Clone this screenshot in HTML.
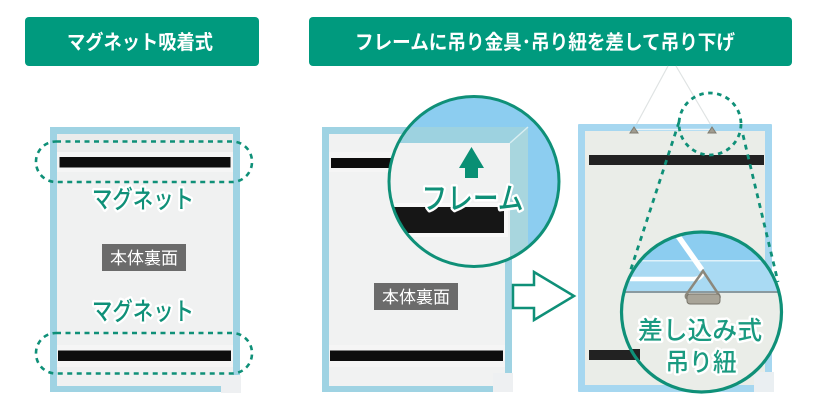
<!DOCTYPE html>
<html lang="ja"><head><meta charset="utf-8"><style>
html,body{margin:0;padding:0;background:#fff;width:814px;height:407px;overflow:hidden}
svg{display:block;filter:blur(0.35px)}
text{font-family:"Liberation Sans","Noto Sans CJK JP",sans-serif}
.lab{font-weight:500;fill:#0f9078;stroke:#fff;stroke-width:5px;paint-order:stroke;stroke-linejoin:round}
.tag{fill:#fff;font-size:17px}
.d{fill:none;stroke:#0f9078;stroke-width:2.6;stroke-dasharray:5 4.5}
</style></head><body>
<svg width="814" height="407" viewBox="0 0 814 407" xmlns="http://www.w3.org/2000/svg">
<defs>
<clipPath id="c1"><circle cx="474" cy="181.5" r="86"/></clipPath>
<clipPath id="c2"><circle cx="701.5" cy="312" r="81"/></clipPath>
</defs>
<!-- headers -->
<rect x="25" y="17" width="234" height="49" rx="4" fill="#009a7e"/>
<rect x="309" y="17" width="483" height="49" rx="4" fill="#009a7e"/>
<text x="140" y="49" text-anchor="middle" fill="#fff" font-size="20" font-weight="700" textLength="146" lengthAdjust="spacingAndGlyphs">マグネット吸着式</text>
<text x="545" y="49" text-anchor="middle" fill="#fff" font-size="20" font-weight="700" textLength="380" lengthAdjust="spacingAndGlyphs">フレームに吊り金具･吊り紐を差して吊り下げ</text>

<!-- left panel -->
<rect x="50" y="127" width="190" height="265" fill="#9fd3e3"/>
<rect x="57" y="134" width="176" height="252" fill="#f0f1f1"/>
<rect x="57" y="134" width="176" height="18" fill="#ebecec"/>
<rect x="57" y="152" width="176" height="20" fill="#f5f5f5"/>
<rect x="57" y="345" width="176" height="22" fill="#f5f5f5"/>
<rect x="221" y="375" width="20" height="18" fill="#eef0f2"/>
<rect x="59.500" y="157" width="171" height="10.500" fill="#0d0d0d"/>
<rect x="58" y="350.500" width="173" height="10.500" fill="#0d0d0d"/>
<rect x="102" y="244" width="84" height="27" fill="#6b6b6b"/>
<text class="tag" x="144" y="264" text-anchor="middle" textLength="68" lengthAdjust="spacingAndGlyphs">本体裏面</text>
<text class="lab" x="143" y="208" text-anchor="middle" font-size="25" textLength="102" lengthAdjust="spacingAndGlyphs">マグネット</text>
<text class="lab" x="143" y="320" text-anchor="middle" font-size="25" textLength="102" lengthAdjust="spacingAndGlyphs">マグネット</text>
<rect class="d" x="36" y="141.500" width="216" height="40.500" rx="20"/>
<rect class="d" x="36" y="333" width="216" height="40.500" rx="20"/>

<!-- middle panel -->
<rect x="322" y="127" width="190" height="265" fill="#9fd3e3"/>
<rect x="329" y="134" width="176" height="252" fill="#f1f2f2"/>
<rect x="329" y="152" width="176" height="20" fill="#f5f5f5"/>
<rect x="329" y="345" width="176" height="22" fill="#f5f5f5"/>
<rect x="493" y="373" width="20" height="19" fill="#eef0f2"/>
<rect x="331" y="158" width="70" height="10" fill="#0d0d0d"/>
<rect x="330" y="350.500" width="173" height="10.500" fill="#0d0d0d"/>
<rect x="374" y="283" width="84" height="27" fill="#6b6b6b"/>
<text class="tag" x="416" y="303" text-anchor="middle" textLength="68" lengthAdjust="spacingAndGlyphs">本体裏面</text>
<circle cx="474" cy="181.500" r="86" fill="#8ccdf0"/>
<g clip-path="url(#c1)">
  <path d="M380 127H528V280H380Z" fill="#9dd2e0"/>
  <path d="M528 127L510 143V280H528Z" fill="#a8d6de"/>
  <path d="M528 127L510 143" stroke="#d8eef2" stroke-width="1.500" fill="none"/>
  <rect x="380" y="143" width="130" height="140" fill="#f1f2f2"/>
  <rect x="392" y="203" width="116" height="34" fill="#f8f8f8"/>
  <rect x="380" y="207" width="124" height="26" fill="#161616"/>
</g>
<circle cx="474" cy="181.500" r="85" fill="none" stroke="#0f9078" stroke-width="3"/>
<path d="M471.500 147L484 168H478V178H465V168H459Z" fill="#0a8f74"/>
<text x="472.500" y="209" text-anchor="middle" font-size="30" font-weight="500" fill="#0f9078" stroke="#fff" stroke-width="5" paint-order="stroke" stroke-linejoin="round" textLength="102" lengthAdjust="spacingAndGlyphs">フレーム</text>
<path d="M513 285H534V272L574 296L534 320V308H513Z" fill="#fff" stroke="#0f9078" stroke-width="2.500"/>

<!-- right panel -->
<path d="M635 127L668 66M712 127L676 66" stroke="#dfe3e3" stroke-width="1.200" fill="none"/>
<rect x="578" y="124" width="194" height="268" rx="1" fill="#a6d7f0"/>
<rect x="585" y="131" width="180" height="254" fill="#eaede8"/>
<rect x="754" y="372" width="20" height="20" fill="#eaeff2"/>
<rect x="589" y="155" width="175" height="10" fill="#222"/>
<rect x="589" y="350" width="175" height="10" fill="#222"/>
<path d="M634 129.500H712" stroke="#eaf4f8" stroke-width="1.500"/>
<path d="M634 127L630 133H638ZM712 127L708 133H716Z" fill="#a09c90" stroke="#7f7c70"/>
<circle class="d" cx="710" cy="124" r="31" style="stroke-width:2.800;stroke-dasharray:4.500 4.500"/>
<path class="d" d="M679 122L630 272M743 135L778 282" style="stroke-width:2.800;stroke-dasharray:5 5"/>
<circle cx="701.500" cy="312" r="81" fill="#eaede8"/>
<g clip-path="url(#c2)">
  <rect x="620" y="230" width="165" height="31" fill="#8ccdf0"/>
  <rect x="620" y="260" width="165" height="32" fill="#a9daf3"/>
  <rect x="620" y="260" width="165" height="1.500" fill="#dff1fa"/>
  <rect x="620" y="291" width="165" height="2" fill="#8a9aa0"/>
  <rect x="620" y="349" width="20" height="11" fill="#222"/>
  <path d="M678 236L702 270" stroke="#fff" stroke-width="5.500" fill="none"/>
  <path d="M628 279H694Q700 279 703 273" stroke="#fff" stroke-width="4.500" fill="none"/>
  <path d="M703 271L686 295Q685 299 690 299H716Q721 299 719 295Z" fill="none" stroke="#8c887c" stroke-width="2.500"/>
  <rect x="687" y="294" width="33" height="10" rx="3" fill="#a8a498" stroke="#77746a"/>
</g>
<circle cx="701.500" cy="312" r="80" fill="none" stroke="#0f9078" stroke-width="3.200"/>
<text class="lab" x="700" y="339" text-anchor="middle" font-size="25" textLength="124" lengthAdjust="spacingAndGlyphs" style="fill:#1a9a80">差し込み式</text>
<text class="lab" x="701" y="371" text-anchor="middle" font-size="25" textLength="71" lengthAdjust="spacingAndGlyphs" style="fill:#1a9a80">吊り紐</text>
</svg>
</body></html>
